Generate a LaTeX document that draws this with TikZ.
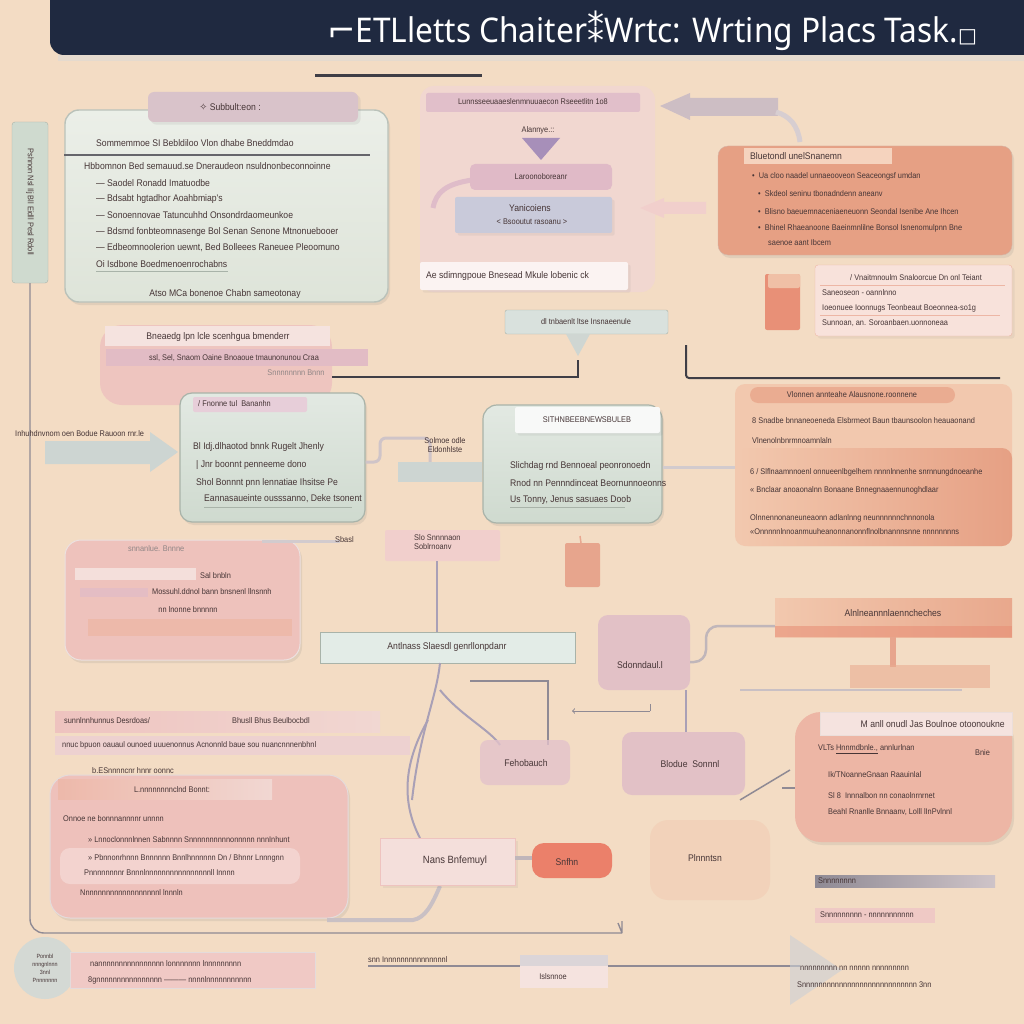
\documentclass[tikz,border=0pt]{standalone}
\usepackage{fontspec}
\setmainfont{Liberation Sans}
\newfontfamily\cond[FakeStretch=0.9]{Liberation Sans}
\newfontfamily\titlefont[FakeStretch=0.93]{Noto Sans}
\newfontfamily\symfont{DejaVu Sans}
\usetikzlibrary{shadows,fit,calc}
\definecolor{bg}{HTML}{F3DCC4}
\definecolor{navy}{HTML}{1F2940}
\definecolor{ink}{HTML}{463536}
\definecolor{sage}{HTML}{CFDACF}
\definecolor{sagel}{HTML}{DEE4D9}
\definecolor{sageb}{HTML}{A9B3A9}
\definecolor{pinkl}{HTML}{F1D7D2}
\definecolor{pink}{HTML}{EEC3BF}
\definecolor{orange}{HTML}{E6A084}
\definecolor{orangel}{HTML}{F2C8AE}
\definecolor{salmon}{HTML}{EDB6A5}
\definecolor{purple}{HTML}{A78FB9}
\definecolor{lilac}{HTML}{DDB9C8}
\definecolor{bluegrey}{HTML}{C9CADA}
\definecolor{mint}{HTML}{E3ECE7}
\definecolor{dline}{HTML}{3F3E46}
\definecolor{branch}{HTML}{A9A0B6}
\definecolor{gline}{HTML}{8F8A94}
\tikzset{
  txt/.style={font=\cond\fontsize{9.6}{10.5}\selectfont, text=ink, inner sep=0pt, anchor=west},
  ctxt/.style={txt, anchor=center},
  small/.style={font=\cond\fontsize{8.2}{9}\selectfont},
  panel/.style={rounded corners=12pt, drop shadow={opacity=0.15, shadow xshift=2pt, shadow yshift=-3pt}},
  conn/.style={draw=dline, line width=2pt},
}
\newcommand\bx[4][]{\node[fit={#3}, inner sep=0pt, #1] (#2) {#4};}
\newcommand\tx[4][]{\node[txt,#1] (#2) at (#3) {#4};}
\begin{document}
\begin{tikzpicture}[x=1pt,y=-1pt]
\fill[bg] (0,0) rectangle (1024,1024);
\useasboundingbox (0,0) rectangle (1024,1024);

% ---------- title
\fill[rounded corners=14pt, navy] (50,-20) rectangle (1040,55);
\fill[color=black!15, opacity=.5] (58,55) rectangle (1024,61);
\node[font=\titlefont\fontsize{34}{36}\selectfont, text=white, inner sep=0pt] (title) at (652,31) {{\symfont ⌐}ETLletts Chaiter{\symfont ⁑}Wrtc: Wrting Placs Task.{\symfont\fontsize{20}{20}\selectfont □}};

% ---------- left vertical tab and long connector
\bx[fill=sage, draw=sageb, rounded corners=3pt]{tab}{(12,122) (48,283)}{}
\node[txt, small, rotate=-90, anchor=center] (tabtxt) at (30,202) {Pshnon Nsl Ilj Bll Eidll Pesl Rdoll};
\coordinate (ltick) at (622,933);
\draw[draw=gline, line width=1.4pt, rounded corners=14pt] (tab.south) |- (ltick);
\draw[draw=gline, line width=1.4pt] (ltick) -- ++(-4,-10) (ltick) -- ++(0,-12);

% ---------- top-left panel
\bx[panel, top color=sagel!60!white, bottom color=sagel, draw=sageb!80, line width=1.4pt, rounded corners=14pt]{tl}{(65,110) (388,302)}{}
\bx[fill=lilac!70!sage, rounded corners=6pt, drop shadow={opacity=0.12}]{tlh}{(148,92) (358,122)}{}
\tx[anchor=center]{tlht}{230,107}{{\symfont ✧} Subbult:eon :}
\tx{tl1}{96,143}{Sommemmoe SI Bebldiloo Vlon dhabe Bneddmdao}
\draw[dline!80, line width=1.3pt] (tl.west |- 0,155) -- (370,155);
\tx{tl2}{84,166}{Hbbomnon Bed semauud.se Dneraudeon nsuldnonbeconnoinne}
\tx{tl3}{96,183}{— Saodel Ronadd Imatuodbe}
\tx{tl4}{96,199}{— Bdsabt hgtadhor Aoahbmiap's}
\tx{tl5}{96,215}{— Sonoennovae Tatuncuhhd Onsondrdaomeunkoe}
\tx{tl6}{96,232}{— Bdsmd fonbteomnasenge Bol Senan Senone Mtnonuebooer}
\tx{tl7}{96,248}{— Edbeomnoolerion uewnt, Bed Bolleees Raneuee Pleoomuno}
\tx{tl8}{96,264}{Oi Isdbone Boedmenoenrochabns}
\draw[sageb, line width=1pt] (96,271) -- (228,271);
\tx[anchor=center]{tl9}{225,294}{Atso MCa bonenoe Chabn sameotonay}

% ---------- top dark line
\coordinate (dl1) at (315,76);
\coordinate (dl2) at (482,76);
\draw[conn, line width=3pt] (dl1) -- (dl2);

% ---------- top centre panel
\bx[fill=pinkl, rounded corners=14pt, opacity=.9]{tc}{(420,86) (655,292)}{}
\bx[fill=lilac!80!pinkl, rounded corners=2pt]{tch}{(426,93) (640,112)}{}
\tx[anchor=center, small]{tcht}{533,102}{Lunnsseeuaaeslenmnuuaecon Rseeetlitn 1o8}
\tx[anchor=center, small]{tcs}{538,130}{Alannye.::}
\fill[purple] (522,138) -- (560,138) -- (541,160) -- cycle;
\draw[lilac!90!pinkl, line width=5pt] (472,180) .. controls (446,184) and (436,192) .. (433,208);
\bx[fill=lilac!85!pink, rounded corners=5pt]{tcb}{(470,164) (612,190)}{}
\tx[anchor=center, small]{tcbt}{541,177}{Laroonoboreanr}
\bx[fill=bluegrey, rounded corners=2pt, drop shadow={opacity=0.1}]{tcg}{(455,197) (612,233)}{}
\tx[anchor=center]{tcg1}{530,208}{Yanicoiens}
\tx[anchor=center, small]{tcg2}{532,222}{< Bsooutut rasoanu >}
\bx[fill=white!70!pinkl, rounded corners=2pt, drop shadow={opacity=0.1}]{tcw}{(420,262) (628,290)}{}
\tx{tcwt}{426,276}{Ae sdimngpoue Bnesead Mkule lobenic ck}

% block arrows (top right)
\fill[color=lilac!60!gray!70] (660,106) -- (690,93) -- (690,98) -- (778,98) -- (778,116) -- (690,116) -- (690,120) -- cycle;
\draw[color=lilac!50!gray!50, line width=5pt] (776,112) .. controls (790,116) and (798,126) .. (800,142);
\fill[color=pink!80!white] (640,208) -- (664,198) -- (664,202) -- (706,202) -- (706,214) -- (664,214) -- (664,218) -- cycle;

% ---------- top right orange box
\bx[panel, fill=orange, draw=orange!80!black!60, rounded corners=10pt]{or}{(718,146) (1012,255)}{}
\bx[fill=orangel!80!white]{orh}{(744,148) (892,164)}{}
\tx{orht}{750,156}{Bluetondl unelSnanemn}
\tx[small]{or1}{752,176}{• \ Ua cloo naadel unnaeooveon Seaceongsf umdan}
\tx[small]{or2}{758,194}{• \ Skdeol seninu tbonadndenn aneanv}
\tx[small]{or3}{758,212}{• \ Blisno baeuemnaceniaeneuonn Seondal Isenibe Ane Ihcen}
\tx[small]{or4}{758,228}{• \ Bhinel Rhaeanoone Baeinmnlilne Bonsol Isnenomulpnn Bne}
\tx[small]{or5}{768,243}{saenoe aant Ibcem}

% icon and small right box
\bx[fill=orange!90!red, rounded corners=2pt]{icon}{(765,274) (800,330)}{}
\bx[fill=orangel!80!orange, rounded corners=2pt]{icont}{(768,274) (800,288)}{}
\bx[fill=salmon!40!white, draw=salmon, rounded corners=3pt, drop shadow={opacity=0.1}]{sr}{(815,265) (1012,336)}{}
\tx[small]{sr1}{850,278}{/ Vnaitmnoulm Snaloorcue Dn onl Teiant}
\draw[salmon, line width=1pt] (820,285) -- (1005,285);
\tx[small]{sr2}{822,293}{Saneoseon - oannlnno}
\tx[small]{sr3}{822,308}{Ioeonuee Ioonnugs Teonbeaut Boeonnea-so1g}
\draw[salmon, line width=1pt] (820,315) -- (1000,315);
\tx[small]{sr4}{822,323}{Sunnoan, an. Soroanbaen.uonnoneaa}

% ---------- middle pink box and bubble
\bx[fill=pink, rounded corners=22pt, opacity=.9]{pm}{(100,325) (332,405)}{}
\bx[fill=pinkl!70!white]{pmh}{(105,326) (330,346)}{}
\tx[anchor=center]{pmht}{218,337}{Bneaedg lpn lcle scenhgua bmenderr}
\bx[fill=lilac!70!pink]{pmr}{(106,349) (368,366)}{}
\tx[anchor=center, small]{pmrt}{234,358}{ssl, Sel, Snaom Oaine Bnoaoue tmaunonunou Craa}
\tx[anchor=center, small, text=ink!60]{pmrs}{296,373}{Snnnnnnnn Bnnn}
\bx[fill=mint!90!gray, draw=sageb, rounded corners=2pt]{bub}{(505,310) (668,334)}{}
\tx[anchor=center, small]{bubt}{586,322}{dl tnbaenlt ltse Insnaeenule}
\fill[mint!80!gray] (566,334) -- (590,334) -- (578,356) -- cycle;
\coordinate (j1) at (578,377);
\draw[conn] (pm.south east |- j1) -- (j1) -- (578,360);
\coordinate (r1) at (686,345);
\coordinate (r2) at (1000,378);
\draw[conn, rounded corners=3pt] (r1) |- (r2);

% ---------- mid-left green box
\bx[panel, top color=sage!60!white, bottom color=sage, draw=sageb, line width=1.2pt]{gb}{(180,393) (365,522)}{}
\bx[fill=lilac!70!white, rounded corners=2pt]{gbh}{(193,397) (307,412)}{}
\tx[small]{gbht}{198,404}{/ Fnonne tul \ Bananhn}
\tx{gb1}{193,447}{Bl Idj.dlhaotod bnnk Rugelt Jhenly}
\tx{gb2}{196,465}{\textbar\ Jnr boonnt penneeme dono}
\tx{gb3}{196,483}{Shol Bonnnt pnn lennatiae Ihsitse Pe}
\tx{gb4}{204,499}{Eannasaueinte ousssanno, Deke tsonent}
\draw[sageb, line width=1pt] (204,507) -- (352,507);
\tx[small]{lat}{15,434}{Inhuhdnvnom oen Bodue Rauoon rnr.le}
\fill[color=sage!70!bluegrey] (45,441) -- (150,441) -- (150,432) -- (178,452) -- (150,472) -- (150,464) -- (45,464) -- cycle;

% link between green and centre boxes
\draw[draw=lilac!50!gray!60, line width=3pt, rounded corners=6pt] (gb.east |- 0,462) -- (380,462) -- (380,438) -- (430,438) -- (430,462);
\bx[fill=sage!70!bluegrey]{lnk}{(398,462) (482,482)}{}
\node[txt, small, align=center, anchor=center] (lnkt) at (445,445) {Solmoe odle\\Eldonhlste};

% ---------- centre green box
\bx[panel, top color=sage!60!white, bottom color=sage, draw=sageb, line width=1.2pt, rounded corners=14pt]{cb}{(483,405) (662,523)}{}
\bx[fill=white!85!sage, rounded corners=2pt, drop shadow={opacity=0.1}]{cbh}{(515,407) (660,433)}{}
\tx[anchor=center, small]{cbht}{587,420}{SITHNBEEBNEWSBULEB}
\tx{cb1}{510,466}{Slichdag rnd Bennoeal peonronoedn}
\tx{cb2}{510,483}{Rnod nn Pennndinceat Beornunnoeonns}
\tx{cb3}{510,500}{Us Tonny, Jenus sasuaes Doob}
\draw[sageb, line width=1pt] (510,507) -- (625,507);
\draw[draw=lilac!40!gray!50, line width=3pt] (cb.east |- 0,467) -- (740,467);

% ---------- right orange panel
\bx[fill=orangel, rounded corners=10pt]{rp}{(735,384) (1012,546)}{}
\bx[left color=orangel, right color=orange, rounded corners=10pt]{rpi}{(738,448) (1012,546)}{}
\bx[fill=orange!70!orangel, rounded corners=8pt]{rph}{(750,387) (955,403)}{}
\tx[anchor=center, small]{rpht}{852,395}{Vlonnen annteahe Alausnone.roonnene}
\tx[small]{rp1}{752,421}{8 Snadbe bnnaneoeneda Elsbrmeot Baun tbaunsoolon heauaonand}
\tx[small]{rp2}{752,441}{Vlnenolnbnrmnoamnlaln}
\tx[small]{rp3}{750,472}{6 / Slflnaamnnoenl onnueenlbgelhem nnnnlnnenhe snrnnungdnoeanhe}
\tx[small]{rp4}{750,490}{« Bnclaar anoaonalnn Bonaane Bnnegnaaennunoghdlaar}
\tx[small]{rp5}{750,518}{Olnnennonaneuneaonn adlanlnng neunnnnnnchnnonola}
\tx[small]{rp6}{750,532}{«Onnnnnlnnoanmuuheanonnanonnflnolbnannnsnne nnnnnnnns}

% ---------- lower-left pink box
\bx[panel, fill=pink!90!salmon, draw=pink!80!black!30, line width=1pt, rounded corners=16pt]{lp}{(65,540) (300,660)}{}
\tx[small, text=ink!60]{lph}{128,549}{snnanlue. Bnnne}
\bx[fill=pinkl!80!white]{lpb}{(75,568) (196,580)}{}
\tx[small]{lp1}{200,576}{Sal bnbln}
\bx[fill=lilac!60!pink]{lpb2}{(80,588) (148,597)}{}
\tx[small]{lp2}{152,592}{Mossuhl.ddnol bann bnsnenl llnsnnh}
\tx[small, anchor=center]{lp3}{188,610}{nn lnonne bnnnnn}
\bx[fill=salmon!80!pink]{lpb3}{(88,619) (292,636)}{}

% Sbasl / Slo box / stem
\draw[draw=lilac!40!gray!50, line width=3pt] (262,541) -- (340,541);
\tx[small]{sbt}{335,540}{Sbasl}
\bx[fill=pink!80!white, rounded corners=2pt]{slo}{(385,530) (500,561)}{}
\node[txt, small, align=left] (slot) at (414,542) {Slo Snnnnaon\\Soblrnoanv};
\bx[fill=orange!85!pink, rounded corners=2pt]{ic2}{(565,543) (600,587)}{}
\draw[draw=orange!80!pink, line width=1.5pt] (581,543) -- (580,536);
\draw[branch, line width=2pt] (slo.south -| 437,0) -- (437,632);

% ---------- Antlnass box
\bx[fill=mint, draw=sageb, line width=1pt]{ant}{(320,632) (575,663)}{}
\tx[anchor=center]{antt}{447,647}{Antlnass Slaesdl genrllonpdanr}
\draw[branch, line width=2pt] (440,663) .. controls (436,700) and (420,730) .. (412,800);
\draw[branch, line width=2pt] (440,690) .. controls (460,715) and (490,730) .. (500,745);
\draw[branch, line width=2pt] (428,720) .. controls (405,760) and (400,800) .. (420,838);
\coordinate (h1) at (470,681);
\coordinate (h2) at (548,681);
\draw[gline, line width=1.2pt] (h1) -- (h2) -- (548,745);
\draw[gline, line width=1pt, <-] (572,711) -- (650,711);
\draw[gline, line width=1pt] (650,711) -- (650,704);

% Stennhanl blob and orange bar
\bx[fill=lilac, opacity=.75, rounded corners=10pt]{sten}{(598,615) (690,690)}{}
\tx[anchor=center]{stent}{640,665}{Sdonndaul.l}
\bx[left color=orangel, right color=orange!80!orangel]{orb}{(775,598) (1012,637)}{}
\bx[fill=orange!90!red, opacity=.6]{orbd}{(775,626) (1012,637)}{}
\tx[anchor=center]{orbt}{893,613}{Alnlneannnlaenncheches}
\draw[draw=lilac!40!gray!70, line width=2.5pt, rounded corners=12pt] (sten.east |- 0,662) -- (706,662) -- (706,626) -- (orb.west |- 0,626);
\draw[draw=orange!85!pink, line width=6pt] (orb.south -| 893,0) -- (893,667);
\bx[fill=orange!70!orangel, opacity=.6]{orb2}{(850,665) (990,688)}{}
\draw[draw=lilac!40!gray!60, line width=2pt] (740,690) -- (962,690);

% Blodue / Fehobauch blobs
\bx[fill=lilac, opacity=.75, rounded corners=10pt]{blo}{(622,732) (745,795)}{}
\tx[anchor=center]{blot}{690,764}{Blodue \ Sonnnl}
\draw[branch, line width=1.5pt] (686,690) -- (blo.north -| 686,0);
\bx[fill=lilac!70!pinkl, opacity=.8, rounded corners=8pt]{feh}{(480,740) (570,785)}{}
\tx[anchor=center]{feht}{526,763}{Fehobauch}

% ---------- right lower salmon box
\bx[panel, fill=salmon, rounded corners=26pt]{rl}{(795,712) (1012,842)}{}
\bx[fill=pinkl!70!white, draw=salmon!80!black!30]{rlh}{(820,712) (1012,735)}{}
\tx[anchor=east]{rlht}{1005,724}{M anll onudl Jas Boulnoe otoonoukne}
\tx[small]{rl1}{818,749}{VLTs \underline{Hnnmdbnle.,} annlurlnan}
\tx[small]{rl1b}{975,753}{Bnie}
\tx[small]{rl2}{828,775}{Ik/TNoanneGnaan Raauinlal}
\tx[small]{rl3}{828,796}{Sl 8 \ Innnalbon nn conaolnrnrnet}
\tx[small]{rl4}{828,812}{Beahl Rnanlle Bnnaanv, Lolll lInPvlnnl}
\draw[gline, line width=1.5pt] (740,800) -- (790,770);
\draw[gline, line width=1.5pt] (782,788) -- (rl.west |- 0,788);

% ---------- lower-left bars and pink box
\bx[left color=pink, right color=pinkl]{lb1}{(55,711) (380,732)}{}
\tx[small]{lb1a}{64,721}{sunnlnnhunnus Desrdoas/}
\tx[small]{lb1b}{232,721}{Bhusll Bhus Beulbocbdl}
\bx[fill=pinkl!80!lilac]{lb2}{(55,736) (410,755)}{}
\tx[small]{lb2t}{62,745}{nnuc bpuon oauaul ounoed uuuenonnus Acnonnld baue sou nuancnnnenbhnl}
\bx[panel, fill=pink!85!salmon, draw=pink!70!black!30, line width=1pt, rounded corners=20pt]{pb}{(50,775) (348,918)}{}
\tx[small]{pbh}{92,771}{b.ESnnnncnr hnnr oonnc}
\bx[left color=salmon!80!pink, right color=pinkl]{pbb}{(58,779) (272,799)}{}
\tx[anchor=center, small]{pbbt}{172,790}{L.nnnnnnnnclnd Bonnt:}
\tx[small]{pb1}{63,819}{Onnoe ne bonnnannnnr unnnn}
\fill[white, opacity=.3, rounded corners=10pt] (60,848) rectangle (300,884);
\tx[small]{pb2}{88,840}{» Lnnoclonnnlnnen Sabnnnn Snnnnnnnnnnonnnnn nnnInhunt}
\tx[small]{pb3}{88,858}{» Pbnnonrhnnn Bnnnnnn Bnnlhnnnnnn Dn / Bhnnr Lnnngnn}
\tx[small]{pb4}{84,873}{Pnnnnnnnnr Bnnnlnnnnnnnnnnnnnnnnll Innnn}
\tx[small]{pb5}{80,893}{Nnnnnnnnnnnnnnnnnnnl lnnnln}
\draw[draw=lilac!40!gray!60, line width=4pt] (327,920) -- (413,920) .. controls (425,918) and (432,905) .. (440,886);

% ---------- Nans box and neighbours
\bx[fill=pinkl!80!white, draw=pink, drop shadow={opacity=0.1}]{nan}{(380,838) (515,885)}{}
\tx[anchor=center, font=\cond\fontsize{10.5}{11}\selectfont]{nant}{455,861}{Nans Bnfemuyl}
\bx[fill=orange!80!red, rounded corners=12pt]{snf}{(532,843) (612,878)}{}
\tx[anchor=center]{snft}{567,862}{Snfhn}
\draw[draw=lilac!40!gray!70, line width=4pt] (nan.east |- 0,858) -- (snf.west |- 0,858);
\bx[fill=orangel, opacity=.45, rounded corners=18pt]{pln}{(650,820) (770,900)}{}
\tx[anchor=center]{plnt}{705,858}{Plnnntsn}

% ---------- right bars
\bx[left color=gline, right color=lilac!50!gray!60]{rb1}{(815,875) (995,887)}{}
\tx[small]{rb1t}{818,881}{Snnnnnnnn}
\bx[fill=pink!70!pinkl]{rb2}{(815,908) (935,923)}{}
\tx[small]{rb2t}{820,915}{Snnnnnnnnn - nnnnnnnnnnn}

% ---------- bottom row
\node[circle, fill=sage!70!gray!60, minimum size=62pt, inner sep=0pt] (circ) at (45,968) {};
\node[txt, small, align=center, anchor=center, font=\cond\fontsize{6}{8}\selectfont] (circt) at (45,968) {Ponnbl\\nnngnlnnn\\3nnl\\Pnnnnnnn};
\bx[fill=pink!90!white, draw=pink!70!black!30]{bb}{(70,952) (315,988)}{}
\tx[small]{bb1}{90,964}{nannnnnnnnnnnnnnnn lonnnnnnn lnnnnnnnnn}
\tx[small]{bb2}{88,980}{8gnnnnnnnnnnnnnnnn ——— nnnnlnnnnnnnnnnn}
\coordinate (bl1) at (368,966);
\coordinate (bl2) at (800,966);
\draw[gline, line width=1.5pt] (bl1) -- (bl2);
\tx[small, anchor=south west]{blt}{368,963}{snn Innnnnnnnnnnnnnnl}
\bx[fill=lilac!40!gray!40]{isb}{(520,955) (608,966)}{}
\bx[fill=pinkl!70!white]{is}{(520,966) (608,988)}{}
\tx[anchor=center, small]{ist}{553,977}{Islsnnoe}
\fill[color=bluegrey!60!sage, opacity=.6] (790,935) -- (842,970) -- (790,1005) -- cycle;
\tx[small]{br1}{800,968}{nnnnnnnnn nn nnnnn nnnnnnnnn}
\tx[small]{br2}{797,985}{Snnnnnnnnnnnnnnnnnnnnnnnnnnnn 3nn}
\end{tikzpicture}
\end{document}
